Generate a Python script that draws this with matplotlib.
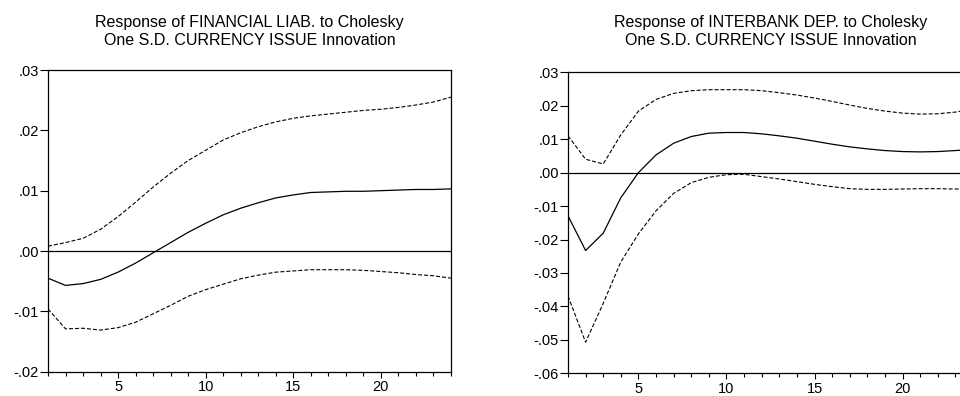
import numpy as np
import matplotlib
matplotlib.use("Agg")
import matplotlib.pyplot as plt
from matplotlib.ticker import FuncFormatter, MultipleLocator

plt.rcParams['font.family'] = ['Liberation Sans', 'DejaVu Sans']

periods = np.arange(1, 25)

# FINANCIAL LIAB. response with +/- 2 S.E. bands
fin_resp = [-0.0045, -0.0057, -0.0054, -0.0047, -0.0035, -0.0020, -0.0003, 0.0014,
            0.0031, 0.0046, 0.0060, 0.0071, 0.0080, 0.0088, 0.0093, 0.0097,
            0.0098, 0.0099, 0.0099, 0.0100, 0.0101, 0.0102, 0.0102, 0.0103]
fin_upper = [0.0008, 0.0014, 0.0021, 0.0036, 0.0057, 0.0081, 0.0106, 0.0129,
             0.0150, 0.0167, 0.0184, 0.0196, 0.0206, 0.0214, 0.0220, 0.0224,
             0.0227, 0.0230, 0.0233, 0.0235, 0.0238, 0.0242, 0.0247, 0.0255]
fin_lower = [-0.0096, -0.0129, -0.0128, -0.0131, -0.0127, -0.0118, -0.0104, -0.0090,
             -0.0075, -0.0064, -0.0055, -0.0046, -0.0040, -0.0035, -0.0033, -0.0031,
             -0.0031, -0.0031, -0.0032, -0.0034, -0.0036, -0.0039, -0.0041, -0.0045]

# INTERBANK DEP. response with +/- 2 S.E. bands
ib_resp = [-0.0129, -0.0233, -0.0181, -0.0075, 0.0000, 0.0053, 0.0088, 0.0108,
           0.0118, 0.0120, 0.0120, 0.0116, 0.0110, 0.0103, 0.0094, 0.0085,
           0.0077, 0.0071, 0.0066, 0.0063, 0.0062, 0.0063, 0.0066, 0.0070]
ib_upper = [0.0110, 0.0040, 0.0026, 0.0113, 0.0184, 0.0219, 0.0237, 0.0245,
            0.0248, 0.0248, 0.0248, 0.0245, 0.0239, 0.0232, 0.0223, 0.0213,
            0.0202, 0.0192, 0.0184, 0.0178, 0.0175, 0.0176, 0.0181, 0.0190]
ib_lower = [-0.0369, -0.0507, -0.0391, -0.0267, -0.0183, -0.0114, -0.0062, -0.0030,
            -0.0014, -0.0006, -0.0005, -0.0012, -0.0019, -0.0027, -0.0035, -0.0042,
            -0.0048, -0.0050, -0.0050, -0.0049, -0.0048, -0.0048, -0.0049, -0.0050]

titles = [
    ("Response of FINANCIAL LIAB. to Cholesky", "One S.D. CURRENCY ISSUE Innovation"),
    ("Response of INTERBANK DEP. to Cholesky", "One S.D. CURRENCY ISSUE Innovation"),
]


def fmt(v, pos):
    # EViews style labels: .01, -.02, .00
    s = "%.2f" % v
    if s.startswith("-0"):
        s = "-" + s[2:]
    elif s.startswith("0"):
        s = s[1:]
    return s


fig = plt.figure(figsize=(9.6, 3.96), dpi=100)
W, H = 960.0, 396.0

# panel boxes in pixels: left, top, right, bottom (second panel runs past the edge)
boxes = [(48, 70, 451, 371.7), (568, 72.3, 973, 373.3)]
ylims = [(-0.02, 0.03), (-0.06, 0.03)]
series = [(fin_resp, fin_upper, fin_lower), (ib_resp, ib_upper, ib_lower)]
dash = (0, (3.6, 1.8))

for (l, t, r, b), ylim, (resp, up, lo), (t1, t2) in zip(boxes, ylims, series, titles):
    ax = fig.add_axes([l / W, 1 - b / H, (r - l) / W, (b - t) / H])
    ax.plot(periods, resp, color='black', lw=0.9)
    ax.plot(periods, up, color='black', lw=0.8, linestyle=dash)
    ax.plot(periods, lo, color='black', lw=0.8, linestyle=dash)
    ax.axhline(0, color='black', lw=0.9)
    ax.set_xlim(1, 24)
    ax.set_ylim(*ylim)
    ax.xaxis.set_major_locator(MultipleLocator(5))
    ax.xaxis.set_minor_locator(MultipleLocator(1))
    ax.yaxis.set_major_locator(MultipleLocator(0.01))
    ax.yaxis.set_major_formatter(FuncFormatter(fmt))
    ax.tick_params(axis='y', length=5.5, width=0.8, pad=1, labelsize=10.5)
    ax.tick_params(axis='x', which='major', length=4, width=0.8, pad=2, labelsize=10.5)
    ax.tick_params(axis='x', which='minor', length=3, width=0.8)
    for sp in ax.spines.values():
        sp.set_linewidth(0.9)
    cx = (l + r) / 2 / W
    fig.text(cx, 1 - 27 / H, t1, ha='center', va='baseline', fontsize=11.5)
    fig.text(cx, 1 - 45 / H, t2, ha='center', va='baseline', fontsize=11.5)

fig.savefig("out.png", dpi=100)
